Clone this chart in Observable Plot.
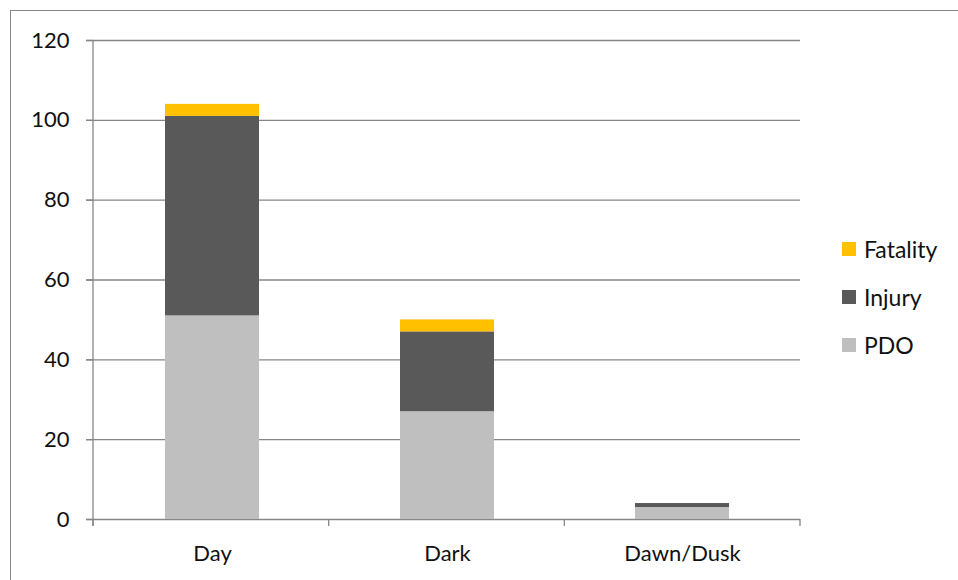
<!DOCTYPE html>
<html>
<head>
<meta charset="utf-8">
<script src="https://cdn.jsdelivr.net/npm/d3@7"></script>
<script src="https://cdn.jsdelivr.net/npm/@observablehq/plot@0.6"></script>
<style>
  html, body { margin: 0; padding: 0; background: #fff; }
  body { width: 958px; height: 580px; position: relative; overflow: hidden; font-family: Lato, "Open Sans", sans-serif; }
  #frame { position: absolute; left: 10px; top: 10px; width: 1200px; height: 1200px; border: 1.5px solid #888; box-sizing: border-box; }
  #chart { position: absolute; left: 0; top: 0; }
  #legend { position: absolute; left: 842px; top: 235px; font-size: 23px; color: #111; }
  .item { display: flex; align-items: center; height: 28px; margin-bottom: 20px; }
  .sw { width: 14px; height: 14px; margin-right: 8px; }
</style>
</head>
<body>
<div id="frame"></div>
<div id="chart"></div>
<div id="legend"></div>
<script>
const categories = ["Day", "Dark", "Dawn/Dusk"];
const series = ["PDO", "Injury", "Fatality"];
const pdo = [51, 27, 3];
const injury = [50, 20, 1];
const fatality = [3, 3, 0];
const yTicks = [0, 20, 40, 60, 80, 100, 120];
const colors = ["#BFBFBF", "#595959", "#FFC000"];
const legendOrder = ["Fatality", "Injury", "PDO"];

const values = {PDO: pdo, Injury: injury, Fatality: fatality};
const data = [];
series.forEach(s => categories.forEach((c, i) => data.push({cat: c, series: s, value: values[s][i]})));

const W = 958, H = 580, ML = 93, MR = 158, MT = 40, MB = 61;
const gray = "#868686";

const axisLines = (index, scales, vals, dims) => {
  const g = d3.create("svg:g").attr("stroke", gray).attr("stroke-width", 1.3);
  const x0 = dims.marginLeft, x1 = dims.width - dims.marginRight;
  const yb = dims.height - dims.marginBottom;
  const n = categories.length;
  const step = (x1 - x0) / n;
  g.append("line").attr("x1", x0).attr("x2", x0).attr("y1", dims.marginTop).attr("y2", yb + 7);
  for (let i = 0; i <= n; i++) {
    const xp = x0 + i * step;
    g.append("line").attr("x1", xp).attr("x2", xp).attr("y1", yb).attr("y2", yb + 7);
  }
  return g.node();
};

const chart = Plot.plot({
  width: W, height: H,
  marginLeft: ML, marginRight: MR, marginTop: MT, marginBottom: MB,
  style: {fontFamily: "Lato, 'Open Sans', sans-serif", fontSize: "22px", color: "#111", background: "transparent"},
  x: {domain: categories, paddingInner: 0.6, paddingOuter: 0.3, label: null},
  y: {domain: [0, 120], label: null},
  color: {domain: series, range: colors},
  marks: [
    Plot.gridY(yTicks, {stroke: gray, strokeOpacity: 1, strokeWidth: 1.3, insetLeft: -7}),
    Plot.barY(data, {x: "cat", y: "value", fill: "series", order: series}),
    Plot.axisY(yTicks, {tickSize: 7, tickPadding: 17, stroke: gray, strokeWidth: 1.3, fill: "#111", fontSize: 22, tickFormat: d => String(d)}),
    Plot.axisX({tickSize: 0, tickPadding: 26, fill: "#111", fontSize: 22}),
    axisLines
  ]
});
document.getElementById("chart").appendChild(chart);

const leg = document.getElementById("legend");
legendOrder.forEach(s => {
  const it = document.createElement("div");
  it.className = "item";
  const sw = document.createElement("div");
  sw.className = "sw";
  sw.style.background = colors[series.indexOf(s)];
  const t = document.createElement("span");
  t.textContent = s;
  it.appendChild(sw); it.appendChild(t);
  leg.appendChild(it);
});
</script>
</body>
</html>
